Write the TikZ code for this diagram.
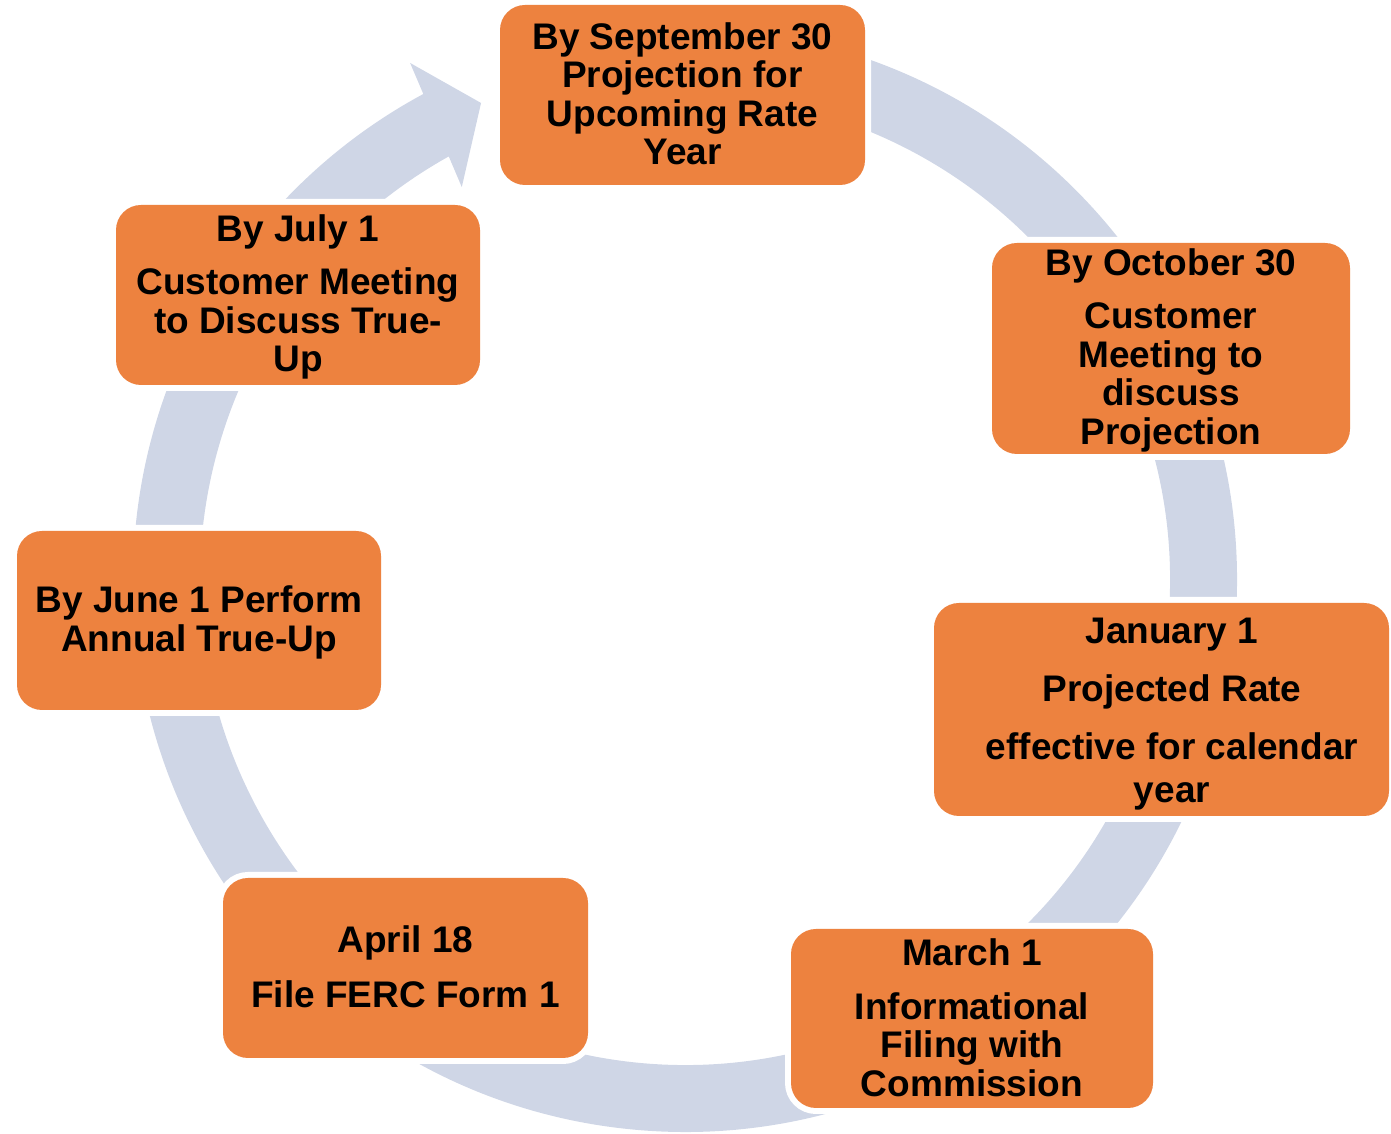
\documentclass[tikz,border=0pt]{standalone}
\usepackage{fontspec}
\setmainfont{Liberation Sans}
\usetikzlibrary{calc}
\definecolor{boxorange}{RGB}{237,130,63}
\definecolor{bandgray}{RGB}{207,214,230}
\tikzset{
  stagebox/.style={rectangle, rounded corners=25pt, fill=boxorange,
    preaction={draw=white, line width=12pt},
    inner sep=0pt, outer sep=0pt},
  stagetext/.style={align=center, text=black, inner sep=0pt,
    font=\fontsize{37}{38.5}\selectfont\bfseries},
}
\begin{document}
\begin{tikzpicture}[x=1pt,y=1pt]
\useasboundingbox (0,0) rectangle (1391,1134);
\coordinate (C) at (685,554);
% cycle band with arrow head
\fill[bandgray] ($(C)+(85:552pt)$) arc[start angle=85, end angle=-241.7, radius=552pt]
  -- ($(C)+(-242:585.6pt)$) -- ($(C)+(-246.85:518.8pt)$) -- ($(C)+(-240.4:451.9pt)$)
  -- ($(C)+(-240.85:485pt)$) arc[start angle=-240.85, end angle=85, radius=485pt] -- cycle;
% boxes
\node[stagebox, minimum width=365pt, minimum height=180pt] (b1) at (682.5,1039) {};
\node[stagebox, minimum width=358pt, minimum height=211pt] (b2) at (1171,785.5) {};
\node[stagebox, minimum width=455pt, minimum height=213pt] (b3) at (1161.5,424.5) {};
\node[stagebox, minimum width=362pt, minimum height=179pt] (b4) at (972,115.5) {};
\node[stagebox, minimum width=365pt, minimum height=180pt] (b5) at (405.5,166) {};
\node[stagebox, minimum width=364pt, minimum height=179pt] (b6) at (199,513.5) {};
\node[stagebox, minimum width=364pt, minimum height=180pt] (b7) at (298,839) {};
% texts
\node[stagetext] (t1) at ($(b1)+(0,1)$) {By September 30\\Projection for\\Upcoming Rate\\Year};
\node[stagetext] (t2) at ($(b2)+(0,-2)$) {By October 30\\[14.5pt]Customer\\Meeting to\\discuss\\Projection};
\node[stagetext] (t3) at ($(b3)+(10.5,-5)$) {January 1\\[19.5pt]Projected Rate\\[19.5pt]effective for calendar\\[4.5pt]year};
\node[stagetext] (t4) at ($(b4)+(0,1)$) {March 1\\[15.5pt]Informational\\Filing with\\Commission};
\node[stagetext] (t5) at ($(b5)+(0,1)$) {April 18\\[16.5pt]File FERC Form 1};
\node[stagetext] (t6) at ($(b6)+(0,-2)$) {By June 1 Perform\\Annual True-Up};
\node[stagetext] (t7) at ($(b7)+(0,-2)$) {By July 1\\[14.5pt]Customer Meeting\\to Discuss True-\\Up};
\end{tikzpicture}
\end{document}
